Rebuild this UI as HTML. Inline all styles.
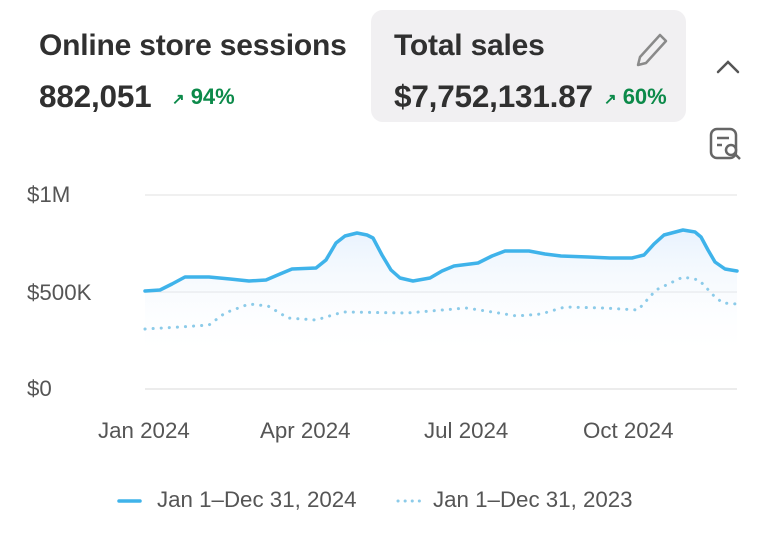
<!DOCTYPE html>
<html><head><meta charset="utf-8"><style>
body{margin:0;width:768px;height:542px;background:#fff;font-family:"Liberation Sans",sans-serif;color:#303030;position:relative;overflow:hidden}
.t{position:absolute;white-space:nowrap}
.h{font-size:30px;font-weight:600;letter-spacing:-0.2px}
.v{font-size:31.5px;font-weight:600;letter-spacing:-0.2px}
.g{font-size:22px;font-weight:600;color:#0c8a4a}
.ax{font-size:22.3px;color:#555}
.card{position:absolute;left:371px;top:10px;width:315px;height:112px;background:#f1f0f2;border-radius:12px}
</style></head><body>
<div class="card"></div>
<div class="t h" style="left:39px;top:29px">Online store sessions</div>
<div class="t v" style="left:39px;top:78px">882,051</div>
<div class="t g" style="left:172px;top:84px"><span style="font-size:15px">↗</span> 94%</div>
<div class="t h" style="left:394px;top:29px">Total sales</div>
<div class="t v" style="left:394px;top:78px">$7,752,131.87</div>
<div class="t g" style="left:604px;top:84px"><span style="font-size:15px">↗</span> 60%</div>
<svg style="position:absolute;left:0;top:0" width="768" height="542">
<path d="M640 57 L660 35 L666 41 L646 63 L638 65 Z" fill="none" stroke="#8a8a8a" stroke-width="2.5" stroke-linejoin="round"/>
<path d="M718 72 L728 62 L738 72" fill="none" stroke="#555" stroke-width="2.5" stroke-linecap="round"/>
<rect x="711" y="129" width="25" height="29" rx="6" fill="none" stroke="#666" stroke-width="2.5"/>
<line x1="717" y1="138" x2="729" y2="138" stroke="#666" stroke-width="2.5"/>
<line x1="717" y1="145" x2="722" y2="145" stroke="#666" stroke-width="2.5"/>
<circle cx="731" cy="150" r="5" fill="#fff" stroke="#666" stroke-width="2.5"/>
<line x1="735" y1="154" x2="740" y2="159" stroke="#666" stroke-width="2.5"/>
<defs><linearGradient id="gf" x1="0" y1="0" x2="0" y2="1"><stop offset="0" stop-color="#e6f1fd" stop-opacity="0.9"/><stop offset="1" stop-color="#ffffff" stop-opacity="0"/></linearGradient></defs>
<line x1="145" y1="195" x2="737" y2="195" stroke="#ebebeb" stroke-width="1.5"/>
<line x1="145" y1="292" x2="737" y2="292" stroke="#e3e3e3" stroke-width="1.5"/>
<line x1="145" y1="389" x2="737" y2="389" stroke="#e6e6e6" stroke-width="1.5"/>
<polygon fill="url(#gf)" points="145,291 165,288 185,277 209,277 249,281 266,280 292,269 316,268 336,243 357,233 373,238 391,270 413,281 430,278 454,266 478,263 505,251 529,251 561,256 588,257 632,258 644,255 664,235 683,230 701,237 715,262 737,271 737,360 145,360"/>
<polyline fill="none" stroke="#8ccbe9" stroke-width="3" stroke-dasharray="0.1 8" stroke-linecap="round" stroke-linejoin="round" points="145,329 180,327 209,325 225,313 249,304 268,306 288,318 316,320 343,312 407,313 466,308 486,311 517,316 541,314 565,307 604,308 638,310 656,290 683,277 699,280 715,297 723,303 737,304"/>
<polyline fill="none" stroke="#3fb3ea" stroke-width="3.5" stroke-linecap="round" stroke-linejoin="round" points="145,291 160,290 172,284 185,277 209,277 230,279 249,281 266,280 280,274 292,269 316,268 326,260 336,243 345,236 357,233 367,235 373,238 382,255 391,270 400,278 413,281 430,278 442,271 454,266 478,263 492,256 505,251 529,251 545,254 561,256 588,257 610,258 632,258 644,255 654,244 664,235 683,230 695,232 701,237 708,250 715,262 725,269 737,271"/>
<line x1="119" y1="501" x2="140" y2="501" stroke="#3fb3ea" stroke-width="3.5" stroke-linecap="round"/>
<line x1="398" y1="501" x2="420" y2="501" stroke="#8ccbe9" stroke-width="3" stroke-dasharray="0.1 7" stroke-linecap="round"/>
</svg>
<div class="t ax" style="left:27px;top:182px">$1M</div>
<div class="t ax" style="left:27px;top:280px">$500K</div>
<div class="t ax" style="left:27px;top:376px">$0</div>
<div class="t ax" style="left:98px;top:418px">Jan 2024</div>
<div class="t ax" style="left:260px;top:418px">Apr 2024</div>
<div class="t ax" style="left:424px;top:418px">Jul 2024</div>
<div class="t ax" style="left:583px;top:418px">Oct 2024</div>
<div class="t ax" style="left:157px;top:487px">Jan 1–Dec 31, 2024</div>
<div class="t ax" style="left:433px;top:487px">Jan 1–Dec 31, 2023</div>
</body></html>
